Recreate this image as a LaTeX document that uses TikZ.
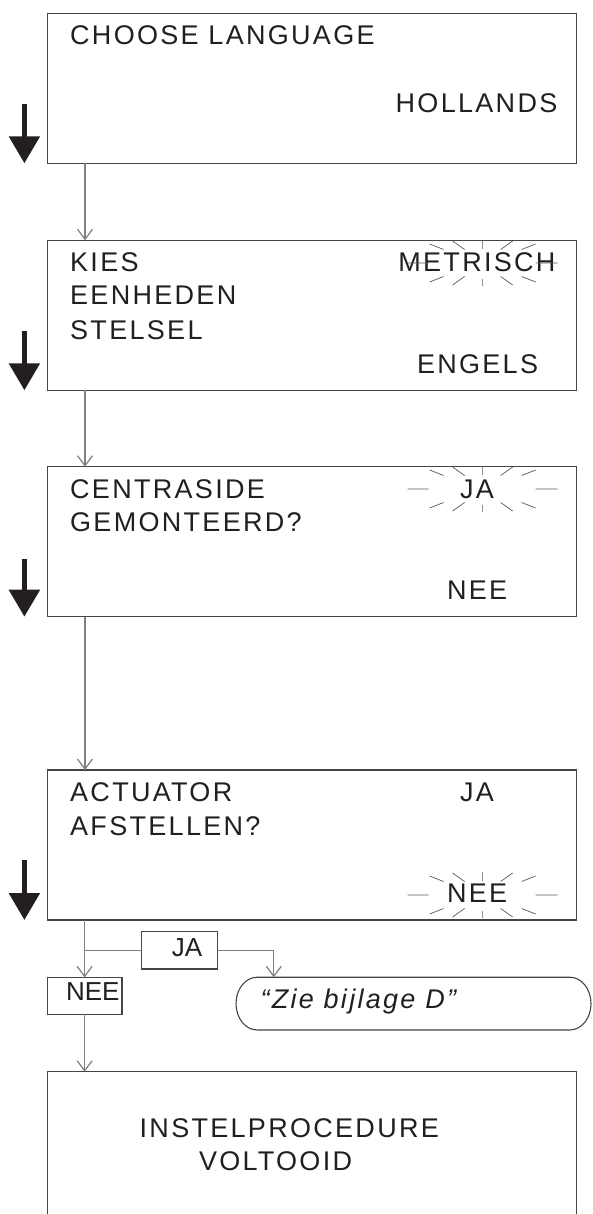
\documentclass[tikz,border=0pt]{standalone}
\usepackage{fontspec}
\usetikzlibrary{arrows.meta}
\newfontfamily\lcdfont{Liberation Sans}[LetterSpace=8.5]
\newfontfamily\plainfont{Liberation Sans}
\definecolor{ink}{HTML}{231F20}
\definecolor{frame}{HTML}{454545}
\definecolor{wire}{HTML}{7F7F7F}
\tikzset{
  box/.style={draw=frame, line width=1.2pt, inner sep=0pt, outer sep=0pt,
    minimum width=528.6pt, minimum height=150pt},
  smallbox/.style={draw=frame, line width=1.1pt, inner sep=0pt, outer sep=0pt},
  txt/.style={anchor=base west, inner sep=0pt, outer sep=0pt, text=ink,
    font=\lcdfont\fontsize{27}{32}\selectfont},
  itxt/.style={anchor=base west, inner sep=0pt, outer sep=0pt, text=ink,
    font=\lcdfont\itshape\fontsize{27}{32}\selectfont},
  stxt/.style={anchor=base west, inner sep=0pt, outer sep=0pt, text=ink,
    font=\plainfont\fontsize{26}{30}\selectfont},
  wireline/.style={draw=wire, line width=1.2pt},
  conn/.style={wireline, -{Straight Barb[length=10pt,width=15pt,line width=1.2pt]}},
  boldarrow/.style={draw=ink, line width=5.5pt, -{Triangle[length=27pt,width=30pt]}},
  ray/.style={draw=black!65, line width=0.7pt},
  sparkle/.pic={
    \draw[ray] (-75,0) -- (-54,0) (53,0) -- (75,0)
      (0,-23) -- (0,-14) (0,16) -- (0,23)
      (-30,-22) -- (-18,-13.5) (30,-22) -- (18,-13.5)
      (-30,22) -- (-18,13.5) (30,22) -- (18,13.5)
      (-53,-19) -- (-39,-13.5) (53,-19) -- (39,-13.5)
      (-53,19) -- (-39,13.5) (53,19) -- (39,13.5);
  }
}
\begin{document}
\begin{tikzpicture}[x=1pt,y=-1pt]
\clip (0,0) rectangle (592,1214);
\fill[white] (0,0) rectangle (592,1214);

% main boxes
\node[box] (b1) at (311.9,88.3) {};
\node[box] (b2) at (311.9,315.3) {};
\node[box] (b3) at (311.9,541.7) {};
\node[box] (b4) at (311.9,845) {};
\node[box] (b5) at (311.9,1146.7) {};

% box 1 text
\node[txt] (t1a) at (70.2,45) {CHOOSE LANGUAGE};
\node[txt] (t1b) at (395.7,112.7) {HOLLANDS};
% box 2 text
\node[txt] (t2a) at (70.2,271.7) {KIES};
\node[txt] (t2b) at (70.2,305) {EENHEDEN};
\node[txt] (t2c) at (70.2,339.3) {STELSEL};
\node[txt] (t2d) at (398.4,271.7) {METRISCH};
\node[txt] (t2e) at (417,373.3) {ENGELS};
\pic at (482.6,263) {sparkle};
% box 3 text
\node[txt] (t3a) at (70.2,498.3) {CENTRASIDE};
\node[txt] (t3b) at (70.2,531.7) {GEMONTEERD?};
\node[txt] (t3c) at (460,498.3) {JA};
\node[txt] (t3d) at (447,599) {NEE};
\pic at (482.6,489) {sparkle};
% box 4 text
\node[txt] (t4a) at (70.2,801.7) {ACTUATOR};
\node[txt] (t4b) at (70.2,835) {AFSTELLEN?};
\node[txt] (t4c) at (460,801.7) {JA};
\node[txt] (t4d) at (447,902.7) {NEE};
\pic at (482.6,895) {sparkle};
% box 5 text
\node[txt] (t5a) at (139.7,1137.3) {INSTELPROCEDURE};
\node[txt] (t5b) at (199,1170) {VOLTOOID};

% bold arrows beside the boxes
\draw[boldarrow] ([xshift=-23.2pt,yshift=59pt]b1.south west) -- ([xshift=-23.2pt]b1.south west);
\draw[boldarrow] ([xshift=-23.2pt,yshift=59pt]b2.south west) -- ([xshift=-23.2pt]b2.south west);
\draw[boldarrow] ([xshift=-23.2pt,yshift=58pt]b3.south west) -- ([xshift=-23.2pt]b3.south west);
\draw[boldarrow] ([xshift=-23.2pt,yshift=60pt]b4.south west) -- ([xshift=-23.2pt]b4.south west);

% branch boxes
\node[smallbox, minimum width=75.5pt, minimum height=37.3pt] (ja) at (179.4,950.3) {};
\node[stxt] (jat) at (171.8,956) {JA};
\node[smallbox, minimum width=74.8pt, minimum height=37pt] (nee) at (84.6,995.8) {};
\node[stxt] (neet) at (66,1000) {NEE};
\node[inner sep=0pt, outer sep=0pt, minimum width=355pt, minimum height=52.7pt] (term) at (413.5,1003.6) {};
\draw[frame, line width=1.1pt]
  ([xshift=21pt]term.north west) -- ([xshift=-21pt]term.north east)
  arc[start angle=90, end angle=-90, x radius=21pt, y radius=26.35pt]
  -- ([xshift=21pt]term.south west)
  arc[start angle=270, end angle=90, x radius=21pt, y radius=26.35pt] -- cycle;
\node[itxt] (termt) at (260.5,1008.3) {“Zie bijlage D”};

% connectors
\draw[conn] ([xshift=37.4pt]b1.south west) -- ([xshift=37.4pt]b2.north west);
\draw[conn] ([xshift=37.4pt]b2.south west) -- ([xshift=37.4pt]b3.north west);
\draw[conn] ([xshift=37.4pt]b3.south west) -- ([xshift=37.4pt]b4.north west);
\draw[conn] (b4.south west -| nee.north) -- (nee.north);
\draw[wireline] (nee.north |- ja.west) -- (ja.west);
\draw[conn] (ja.east) -| ([xshift=37.8pt]term.north west);
\draw[conn] (nee.south) -- (nee.south |- b5.north);
\end{tikzpicture}
\end{document}
